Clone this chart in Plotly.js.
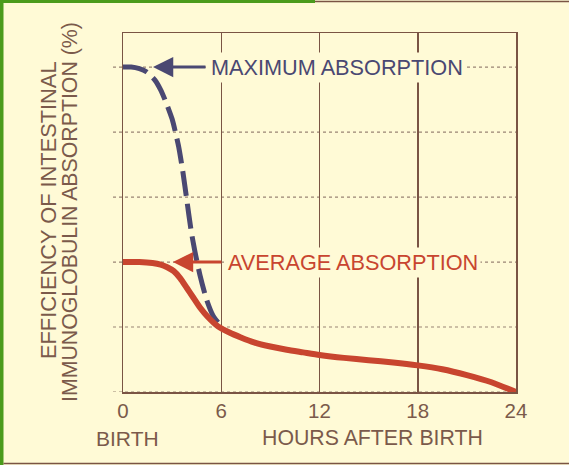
<!DOCTYPE html>
<html>
<head>
<meta charset="utf-8">
<script src="https://cdn.plot.ly/plotly-3.0.1.min.js"></script>
<style>
html,body{margin:0;padding:0;background:#fffad6;}
#chart{width:569px;height:465px;}
</style>
</head>
<body>
<div id="chart"></div>
<script>
// ---- data ----
var xTickVals = [0, 6, 12, 18, 24];
var xTickText = ['0', '6', '12', '18', '24'];
var yGridVals = [0, 20, 40, 60, 80, 100];

var hoursMax = [0, 0.5, 1, 1.45, 1.95, 2.3, 2.6, 3.0, 3.2, 3.4, 3.65, 3.9, 4.15, 4.4, 4.7, 5.1, 5.5, 6];
var maxAbs   = [100, 100, 99.5, 98.5, 96, 93, 89.5, 84, 80, 75.5, 68, 59, 50, 43, 36, 28.5, 23.5, 20.2];

var hoursAvg = [0, 1, 1.8, 2.3, 2.7, 3.1, 3.5, 3.9, 4.3, 4.7, 5.2, 5.8, 6.5, 7.2, 8, 9, 10, 11, 12, 13.5, 15, 16.5, 18, 19.5, 21, 22.5, 24];
var avgAbs   = [40, 40, 39.7, 39.2, 38.4, 37.2, 35, 32, 29, 26, 23, 20.2, 18.3, 16.8, 15.3, 14, 13, 12.2, 11.4, 10.5, 9.8, 9.1, 8.2, 7.0, 5.2, 3.0, 0];

var labelMax = 'MAXIMUM ABSORPTION';
var labelAvg = 'AVERAGE ABSORPTION';
var yTitle1 = 'EFFICIENCY OF INTESTINAL';
var yTitle2 = 'IMMUNOGLOBULIN ABSORPTION (%)';
var xLabelLeft = 'BIRTH';
var xLabelMain = 'HOURS AFTER BIRTH';

// ---- style ----
var BG = '#fffad6';
var BROWN = '#7a5444';
var TEXT = '#7b5a4b';
var NAVY = '#4a4872';
var RED = '#c8452f';
var GREEN = '#4b9b1c';
var FONT = 'Liberation Sans, Arial, sans-serif';

var L = 123, R = 516, T = 33, B = 392, W = 569, H = 465;
function px2x(p){ return (p - L) / (R - L); }
function py2y(p){ return (B - p) / (B - T); }

var traces = [
  {x: hoursMax, y: maxAbs, mode: 'lines', cliponaxis: false,
   line: {color: NAVY, width: 5, dash: '25px,8px', shape: 'spline', smoothing: 0.6},
   hoverinfo: 'skip'},
  {x: hoursAvg, y: avgAbs, mode: 'lines', cliponaxis: false,
   line: {color: RED, width: 6, shape: 'spline', smoothing: 0.6},
   hoverinfo: 'skip'}
];

var shapes = [];
yGridVals.forEach(function(v){
  shapes.push({type: 'line', xref: 'paper', yref: 'y', x0: px2x(113), x1: 1, y0: v, y1: v,
    layer: 'below', line: {color: '#9a8474', width: 1.2, dash: 'dot'}});
});
// frame decoration
shapes.push({type: 'rect', xref: 'paper', yref: 'paper', x0: px2x(0), x1: px2x(3.5), y0: py2y(H), y1: py2y(0),
  line: {width: 0}, fillcolor: GREEN});
shapes.push({type: 'rect', xref: 'paper', yref: 'paper', x0: px2x(0), x1: px2x(315), y0: py2y(3), y1: py2y(0),
  line: {width: 0}, fillcolor: GREEN});
shapes.push({type: 'line', xref: 'paper', yref: 'paper', x0: px2x(315), x1: px2x(W), y0: py2y(1.5), y1: py2y(1.5),
  line: {color: BROWN, width: 1.5}});
shapes.push({type: 'line', xref: 'paper', yref: 'paper', x0: px2x(3.5), x1: px2x(W), y0: py2y(463.5), y1: py2y(463.5),
  line: {color: BROWN, width: 1.5}});

var annotations = [
  // arrows
  {x: 1.83, y: 100, xref: 'x', yref: 'y', text: '', showarrow: true, ax: 54, ay: 0,
   arrowhead: 2, arrowsize: 1.35, arrowwidth: 3, arrowcolor: NAVY},
  {x: 3.05, y: 40, xref: 'x', yref: 'y', text: '', showarrow: true, ax: 50, ay: 0,
   arrowhead: 2, arrowsize: 1.35, arrowwidth: 3, arrowcolor: RED},
  // labels
  {x: px2x(208), y: 100, xref: 'paper', yref: 'y', text: labelMax, showarrow: false,
   xanchor: 'left', yanchor: 'middle', bgcolor: BG, borderpad: 2,
   font: {family: FONT, size: 21.7, color: NAVY}},
  {x: px2x(225), y: 40, xref: 'paper', yref: 'y', text: labelAvg, showarrow: false,
   xanchor: 'left', yanchor: 'middle', bgcolor: BG, borderpad: 2,
   font: {family: FONT, size: 21.7, color: RED}},
  // y title lines
  {x: px2x(48), y: py2y(210), xref: 'paper', yref: 'paper', text: yTitle1, showarrow: false,
   textangle: -90, xanchor: 'center', yanchor: 'middle', font: {family: FONT, size: 21.8, color: TEXT}},
  {x: px2x(70), y: py2y(212), xref: 'paper', yref: 'paper', text: yTitle2, showarrow: false,
   textangle: -90, xanchor: 'center', yanchor: 'middle', font: {family: FONT, size: 21.3, color: TEXT}},
  // x labels
  {x: px2x(127.5), y: py2y(438), xref: 'paper', yref: 'paper', text: xLabelLeft, showarrow: false,
   xanchor: 'center', yanchor: 'middle', font: {family: FONT, size: 21, color: TEXT}},
  {x: px2x(372.5), y: py2y(438), xref: 'paper', yref: 'paper', text: xLabelMain, showarrow: false,
   xanchor: 'center', yanchor: 'middle', font: {family: FONT, size: 21.3, color: TEXT}}
];

var layout = {
  width: W, height: H,
  margin: {l: L, r: W - R, t: T, b: H - B, pad: 0},
  paper_bgcolor: BG, plot_bgcolor: 'rgba(0,0,0,0)',
  showlegend: false,
  font: {family: FONT, color: TEXT},
  xaxis: {range: [0, 24], tickvals: xTickVals, ticktext: xTickText, ticks: '',
    showgrid: true, gridcolor: BROWN, gridwidth: 1.5, zeroline: false,
    showline: true, linecolor: BROWN, linewidth: 1.5, mirror: true,
    tickfont: {family: FONT, size: 20.5, color: TEXT}, fixedrange: true},
  yaxis: {range: [0, 110.5], showticklabels: false, ticks: '', showgrid: false, zeroline: false,
    showline: true, linecolor: BROWN, linewidth: 1.5, mirror: true, fixedrange: true},
  shapes: shapes,
  annotations: annotations
};

Plotly.newPlot('chart', traces, layout, {displayModeBar: false, staticPlot: true});
</script>
</body>
</html>
